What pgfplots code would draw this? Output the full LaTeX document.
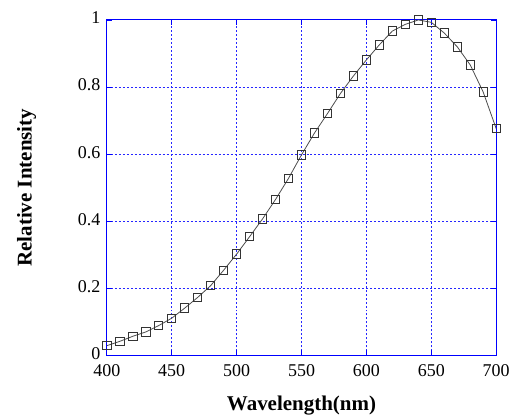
\documentclass[border=0pt]{standalone}
\usepackage{fontspec}
\setmainfont{Liberation Serif}
\usepackage{pgfplots}
\pgfplotsset{compat=1.18}

\begin{document}
\begin{tikzpicture}
\begin{axis}[
  scale only axis,
  width=390pt,height=336pt,
  xmin=400,xmax=700,ymin=0,ymax=1,
  xtick={400,450,...,700},
  ytick={0,0.2,0.4,0.6,0.8,1},
  axis line style={blue,line width=1pt},
  tick style={blue,line width=0.8pt},
  major tick length=5pt,
  tick align=inside,
  grid=major,
  grid style={color=blue!85!white,line width=1pt,dash pattern=on 2pt off 2pt},
  /pgf/number format/assume math mode=true,
  tick label style={font=\fontsize{18}{21}\selectfont},
  xticklabel style={yshift=-6pt},
  yticklabel style={xshift=-3pt,yshift=2pt},
  xlabel={\textbf{Wavelength(nm)}},
  ylabel={\textbf{Relative Intensity}},
  label style={font=\fontsize{21}{24}\selectfont},
  xlabel style={yshift=-12pt},
  ylabel style={yshift=35pt},
  clip=false,
]
\addplot[black!70,line width=0.8pt,mark=square,mark size=4.2pt,
  mark options={black!80,line width=0.9pt,fill=white}]
  coordinates {
  (400,0.029)(410,0.042)(420,0.057)(430,0.070)(440,0.089)
  (450,0.111)(460,0.141)(470,0.173)(480,0.208)(490,0.254)
  (500,0.302)(510,0.354)(520,0.407)(530,0.465)(540,0.528)
  (550,0.598)(560,0.663)(570,0.721)(580,0.781)(590,0.833)
  (600,0.881)(610,0.926)(620,0.967)(630,0.987)(640,1.000)
  (650,0.993)(660,0.961)(670,0.920)(680,0.866)(690,0.785)
  (700,0.676)};
\end{axis}
\path (current axis.south west) ++(-107pt,-58pt) coordinate (bl);
\path (current axis.north east) ++(16pt,20pt) coordinate (tr);
\useasboundingbox (bl) rectangle (tr);
\end{tikzpicture}
\end{document}
